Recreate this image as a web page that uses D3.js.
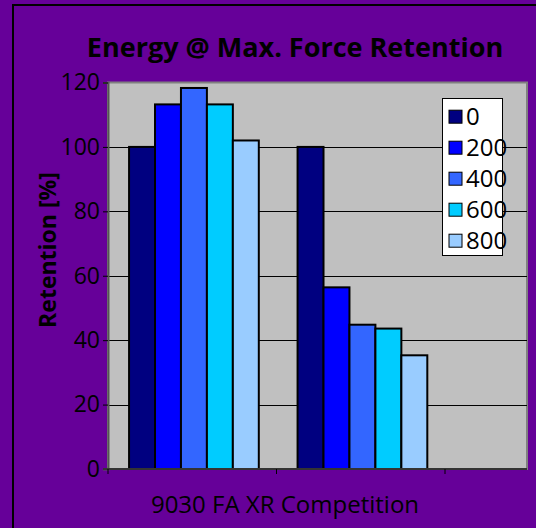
<!DOCTYPE html>
<html lang="en">
<head>
    <meta charset="UTF-8">
    <title>Energy @ Max. Force Retention</title>
    <script src="https://d3js.org/d3.v7.min.js"></script>
    <style>
        body { margin: 0; background: #660099; }
        svg { display: block; font-family: "Open Sans", sans-serif; }
        .chart-title { font-size: 27px; font-weight: 700; fill: #000; }
        .axis-label { font-size: 23px; font-weight: 700; fill: #000; text-anchor: middle; }
        .legend text { font-size: 24px; fill: #000; }
    </style>
</head>
<body>
    <svg id="chart" width="536" height="528"></svg>
    <script>
        // data
        const categories = ["9030 FA XR", "Competition"];
        const seriesNames = ["0", "200", "400", "600", "800"];
        const valuesXR = [100, 113.2, 118.3, 113.2, 102.0];
        const valuesComp = [100, 56.4, 44.8, 43.6, 35.3];
        const yTicks = [0, 20, 40, 60, 80, 100, 120];
        const colors = ["#000080", "#0000ff", "#3366ff", "#00ccff", "#99ccff"];

        const dataset = categories.map((c, i) => ({
            category: c,
            values: [valuesXR, valuesComp][i]
        }));

        const svg = d3.select("#chart");
        const plot = { left: 108, right: 527, top: 82.5, bottom: 469 };

        // outer frame (right and bottom run off the picture)
        svg.append("path")
            .attr("d", "M13,528V5H536")
            .attr("fill", "none")
            .attr("stroke", "#000")
            .attr("stroke-width", 2);

        const bandWidth = 168.5;
        const xScale = d3.scaleBand()
            .domain(categories)
            .range([plot.left, plot.left + bandWidth * categories.length]);
        const xInner = d3.scaleBand()
            .domain(seriesNames)
            .range([bandWidth * 0.125, bandWidth * 0.895]);

        const yScale = d3.scaleLinear()
            .domain([0, 120])
            .range([plot.bottom, plot.top]);

        // plot background
        svg.append("rect")
            .attr("x", plot.left)
            .attr("y", plot.top)
            .attr("width", plot.right - plot.left)
            .attr("height", plot.bottom - plot.top)
            .attr("fill", "#c0c0c0")
            .attr("stroke", "#808080")
            .attr("stroke-width", 2);

        // gridlines
        svg.append("g")
            .selectAll("line")
            .data(yTicks.filter(t => t > 0 && t < 120))
            .enter().append("line")
            .attr("x1", plot.left)
            .attr("x2", plot.right)
            .attr("y1", d => Math.round(yScale(d)) + 0.5)
            .attr("y2", d => Math.round(yScale(d)) + 0.5)
            .attr("stroke", "#000")
            .attr("stroke-width", 1);

        // bars
        const groups = svg.append("g")
            .selectAll("g")
            .data(dataset)
            .enter().append("g")
            .attr("transform", d => `translate(${xScale(d.category)},0)`);

        groups.selectAll("rect")
            .data(d => d.values.map((v, i) => ({ key: seriesNames[i], value: v })))
            .enter().append("rect")
            .attr("x", d => xInner(d.key))
            .attr("y", d => yScale(d.value))
            .attr("width", xInner.bandwidth())
            .attr("height", d => plot.bottom - yScale(d.value))
            .attr("fill", (d, i) => colors[i])
            .attr("stroke", "#000")
            .attr("stroke-width", 2);

        // y axis
        const yAxis = d3.axisLeft(yScale)
            .tickValues(yTicks)
            .tickSize(5)
            .tickPadding(3);
        const yg = svg.append("g")
            .attr("transform", `translate(${plot.left},0)`)
            .call(yAxis);
        yg.select(".domain").attr("stroke", "#555").attr("stroke-width", 2);
        yg.selectAll(".tick line").attr("stroke", "#000");
        yg.selectAll(".tick text")
            .attr("font-family", "Open Sans")
            .attr("font-size", 23)
            .attr("fill", "#000");

        // x axis: ticks at category boundaries
        const xBounds = [0, 1, 2].map(i => plot.left + i * bandWidth);
        const xg = svg.append("g");
        xg.append("line")
            .attr("x1", plot.left - 5).attr("x2", plot.right)
            .attr("y1", plot.bottom).attr("y2", plot.bottom)
            .attr("stroke", "#333").attr("stroke-width", 2);
        xg.selectAll(".xt")
            .data(xBounds)
            .enter().append("line")
            .attr("x1", d => d).attr("x2", d => d)
            .attr("y1", plot.bottom).attr("y2", plot.bottom + 5)
            .attr("stroke", "#000");

        // category label
        svg.append("text")
            .attr("x", 285)
            .attr("y", 513)
            .attr("text-anchor", "middle")
            .attr("font-size", 24)
            .attr("fill", "#000")
            .text(categories.join(" "));

        // y label
        svg.append("text")
            .attr("class", "axis-label")
            .attr("transform", "translate(56,250) rotate(-90)")
            .text("Retention [%]");

        // title
        svg.append("text")
            .attr("class", "chart-title")
            .attr("x", 295)
            .attr("y", 57)
            .attr("text-anchor", "middle")
            .text("Energy @ Max. Force Retention");

        // legend
        const legend = svg.append("g").attr("class", "legend");
        legend.append("rect")
            .attr("x", 442.5).attr("y", 98.5)
            .attr("width", 60).attr("height", 157)
            .attr("fill", "#fff")
            .attr("stroke", "#000");
        const items = legend.selectAll("g.item")
            .data(seriesNames)
            .enter().append("g")
            .attr("class", "item")
            .attr("transform", (d, i) => `translate(449,${116.7 + i * 31})`);
        items.append("rect")
            .attr("x", 0).attr("y", -6.5)
            .attr("width", 13).attr("height", 13)
            .attr("fill", (d, i) => colors[i])
            .attr("stroke", "#000");
        items.append("text")
            .attr("x", 17)
            .attr("dy", "0.36em")
            .text(d => d);
    </script>
</body>
</html>
